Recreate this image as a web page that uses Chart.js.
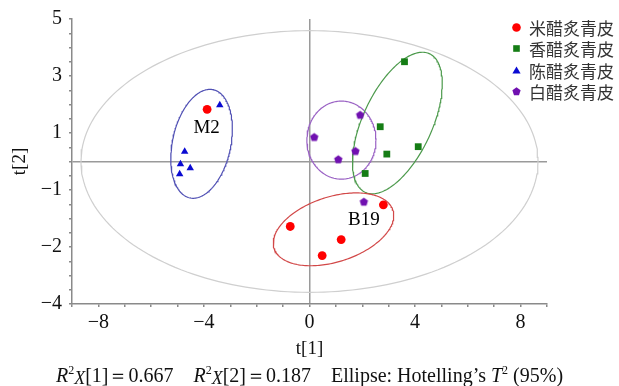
<!DOCTYPE html>
<html>
<head>
<meta charset="utf-8">
<script src="https://cdn.jsdelivr.net/npm/chart.js@4.4.1/dist/chart.umd.min.js"></script>
<style>
  html, body { margin: 0; padding: 0; background: #fff; }
  #wrap { position: relative; width: 619px; height: 386px; }
  #legend { position: absolute; left: 510px; top: 16.5px; font-family: 'Noto Sans CJK SC'; font-size: 17px; color: #333; }
  #legend .item { height: 21.5px; line-height: 21.5px; display: flex; align-items: center; white-space: nowrap; }
  #legend svg { width: 13px; height: 13px; margin-right: 6px; }
  #caption { position: absolute; left: 0; width: 619px; top: 362px; text-align: center;
    font-family: 'Liberation Serif'; font-size: 20px; color: #111; white-space: pre; }
  #caption sup { font-size: 0.6em; vertical-align: 0.7em; line-height: 0; }
  #caption .sx { font-style: italic; font-size: 0.9em; vertical-align: -0.12em; }
</style>
</head>
<body>
<div id="wrap">
  <canvas id="plot" width="619" height="386"></canvas>
  <div id="legend"></div>
  <div id="caption"><i>R</i><sup>2</sup><span class="sx">X</span>[1]＝0.667    <i>R</i><sup>2</sup><span class="sx">X</span>[2]＝0.187    Ellipse: Hotelling’s <i>T</i><sup>2</sup> (95%)</div>
</div>
<script>
// groups
const groups = ['米醋炙青皮', '香醋炙青皮', '陈醋炙青皮', '白醋炙青皮'];
const groupColors = ['#ff0000', '#157d15', '#0a0ad2', '#7010b0'];

// score values t[1], t[2]
const miT1 = [-3.88, -0.73, 0.48, 1.20, 2.80];
const miT2 = [1.83, -2.28, -3.30, -2.74, -1.52];
const xiangT1 = [3.60, 2.68, 4.12, 2.93, 2.11];
const xiangT2 = [3.50, 1.22, 0.52, 0.26, -0.42];
const chenT1 = [-3.40, -4.73, -4.89, -4.52, -4.92];
const chenT2 = [1.98, 0.35, -0.09, -0.23, -0.44];
const baiT1 = [0.18, 1.92, 1.74, 1.09, 2.06];
const baiT2 = [0.86, 1.64, 0.37, 0.08, -1.41];

// confidence ellipses: centre x, centre y, semi-axis a, semi-axis b, angle (deg)
const ellipseNames = ['hotelling', 'mi', 'xiang', 'chen', 'bai'];
const ellipseCx = [0, 0.91, 3.33, -4.09, 1.21];
const ellipseCy = [0, -2.38, 1.35, 0.62, 0.75];
const ellipseA = [8.66, 2.35, 2.72, 1.95, 1.31];
const ellipseB = [4.59, 1.15, 1.29, 1.10, 1.37];
const ellipseAngle = [0, 15.8, 62.4, 76, 0];
const ellipseColors = ['#cfcfcf', '#d24848', '#4c9a4c', '#5050b4', '#9a62c4'];

// sample labels
const sampleLabels = ['M2', 'B19'];
const sampleLabelX = [-3.90, 2.06];
const sampleLabelY = [1.19, -2.07];

// tick labels
const xTickValues = [-8, -4, 0, 4, 8];
const xTickText = ['−8', '−4', '0', '4', '8'];
const yTickValues = [5, 3, 1, -1, -3, -5];
const yTickText = ['5', '3', '1', '−1', '−2', '−4'];

function toPoints(xs, ys) {
  return xs.map((x, i) => ({ x: x, y: ys[i] }));
}

function ellipsePoints(i) {
  const th = ellipseAngle[i] * Math.PI / 180;
  const pts = [];
  for (let k = 0; k <= 200; k++) {
    const t = k / 200 * 2 * Math.PI;
    const u = ellipseA[i] * Math.cos(t);
    const v = ellipseB[i] * Math.sin(t);
    pts.push({
      x: ellipseCx[i] + u * Math.cos(th) - v * Math.sin(th),
      y: ellipseCy[i] + u * Math.sin(th) + v * Math.cos(th),
    });
  }
  return pts;
}

function pentagon(color, r) {
  const c = document.createElement('canvas');
  const s = Math.ceil(r * 2 + 2);
  c.width = s; c.height = s;
  const g = c.getContext('2d');
  g.fillStyle = color;
  g.beginPath();
  for (let k = 0; k < 5; k++) {
    const a = -Math.PI / 2 + k * 2 * Math.PI / 5;
    const px = s / 2 + r * Math.cos(a);
    const py = s / 2 + r * Math.sin(a) + 0.4;
    if (k === 0) g.moveTo(px, py); else g.lineTo(px, py);
  }
  g.closePath();
  g.fill();
  return c;
}

// legend (html, drawn over the plot like the original)
const legendShapes = [
  c => `<circle cx="6.5" cy="6.5" r="4.3" fill="${c}"/>`,
  c => `<rect x="3.2" y="3.2" width="6.6" height="6.6" fill="${c}"/>`,
  c => `<polygon points="6.5,2.6 10.6,9.6 2.4,9.6" fill="${c}"/>`,
  c => `<polygon points="6.5,2.3 10.6,5.3 9.0,10.2 4.0,10.2 2.4,5.3" fill="${c}"/>`,
];
document.getElementById('legend').innerHTML = groups.map((g, i) =>
  `<div class="item"><svg viewBox="0 0 13 13">${legendShapes[i](groupColors[i])}</svg>${g}</div>`
).join('');

const pointSets = [
  { data: toPoints(miT1, miT2), pointStyle: 'circle', pointRadius: 4.4 },
  { data: toPoints(xiangT1, xiangT2), pointStyle: 'rect', pointRadius: 4.8 },
  { data: toPoints(chenT1, chenT2), pointStyle: 'triangle', pointRadius: 4.3 },
  { data: toPoints(baiT1, baiT2), pointStyle: pentagon(groupColors[3], 4.4), pointRadius: 5 },
];

const datasets = pointSets.map((p, i) => ({
  label: groups[i],
  data: p.data,
  pointStyle: p.pointStyle,
  pointRadius: p.pointRadius,
  pointBackgroundColor: groupColors[i],
  pointBorderWidth: 0,
  order: 1,
}));

ellipseNames.forEach((n, i) => {
  datasets.push({
    label: n,
    data: ellipsePoints(i),
    showLine: true,
    pointRadius: 0,
    borderColor: ellipseColors[i],
    borderWidth: 1.2,
    fill: false,
    order: 2,
  });
});

const serif = { family: 'Liberation Serif', size: 20 };
const titleFont = { family: 'Liberation Serif', size: 19 };

const sampleLabelPlugin = {
  id: 'sampleLabels',
  afterDatasetsDraw(chart) {
    const { ctx, scales } = chart;
    ctx.save();
    ctx.font = '19px "Liberation Serif"';
    ctx.fillStyle = '#000';
    ctx.textAlign = 'center';
    ctx.textBaseline = 'middle';
    sampleLabels.forEach((s, i) => {
      ctx.fillText(s, scales.x.getPixelForValue(sampleLabelX[i]), scales.y.getPixelForValue(sampleLabelY[i]));
    });
    ctx.restore();
  },
};

new Chart(document.getElementById('plot'), {
  type: 'scatter',
  data: { datasets: datasets },
  options: {
    responsive: false,
    animation: false,
    events: [],
    layout: { padding: { top: 17.5, right: 72, left: 0, bottom: 0 } },
    plugins: {
      legend: { display: false },
      tooltip: { enabled: false },
    },
    scales: {
      x: {
        type: 'linear',
        min: -9,
        max: 9,
        afterFit: (scale) => { scale.height = 82; },
        border: { display: true, color: '#8a8a8a', width: 1.5 },
        grid: {
          drawOnChartArea: true,
          color: (c) => (c.tick && c.tick.value === 0 ? '#9a9a9a' : 'rgba(0,0,0,0)'),
          lineWidth: 1.5,
          tickColor: '#8a8a8a',
          tickLength: 3,
        },
        ticks: {
          stepSize: 1,
          autoSkip: false,
          maxRotation: 0,
          padding: 4,
          color: '#111',
          font: serif,
          callback: (v) => {
            const k = xTickValues.indexOf(v);
            return k >= 0 ? xTickText[k] : '';
          },
        },
        title: { display: true, text: 't[1]', color: '#111', font: titleFont, padding: { top: 0, bottom: 26 } },
      },
      y: {
        type: 'linear',
        min: -5,
        max: 5,
        afterFit: (scale) => { scale.width = 72; },
        border: { display: true, color: '#8a8a8a', width: 1.5 },
        grid: {
          drawOnChartArea: true,
          color: (c) => (c.tick && c.tick.value === 0 ? '#9a9a9a' : 'rgba(0,0,0,0)'),
          lineWidth: 1.5,
          tickColor: '#8a8a8a',
          tickLength: 3,
        },
        ticks: {
          stepSize: 0.5,
          autoSkip: false,
          padding: 7,
          color: '#111',
          font: serif,
          callback: (v) => {
            const k = yTickValues.indexOf(v);
            return k >= 0 ? yTickText[k] : '';
          },
        },
        title: { display: true, text: 't[2]', color: '#111', font: titleFont, padding: { top: 9, bottom: 0 } },
      },
    },
  },
  plugins: [sampleLabelPlugin],
});
</script>
</body>
</html>
